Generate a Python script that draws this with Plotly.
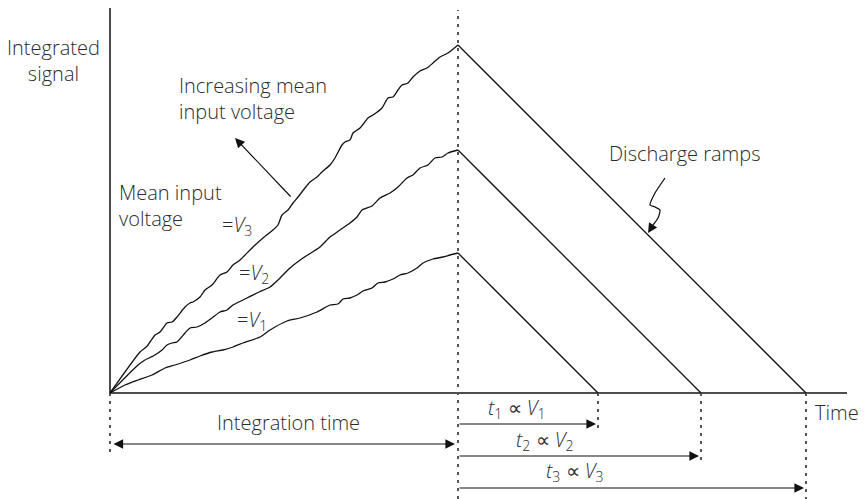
import plotly.graph_objects as go

# Ink
LINE = "#111111"
DOTS = "#555555"
TEXT = "#2b2b2b"
FONT = "Open Sans"

# Integration phase: time vs integrated signal
T_INT = 348

V1_T = [0, 15, 28, 42, 55, 65, 80, 90, 102, 113, 123, 133, 150, 160, 177, 190, 207, 220,
        228, 233, 240, 247, 253, 262, 268, 275, 283, 290, 298, 307, 313, 323, 333, 340, 348]
V1_S = [0, 8, 13, 18, 25, 28, 33, 37, 41, 43, 46, 50, 56, 63, 72, 75, 81, 88,
        89, 94, 95, 98, 102, 105, 110, 111, 114, 118, 120, 125, 130, 134, 136, 138, 140]

V2_T = [0, 28, 35, 45, 52, 57, 62, 67, 75, 80, 87, 95, 102, 110, 117, 123, 133, 147, 160, 170,
        180, 193, 210, 220, 230, 240, 247, 252, 262, 270, 280, 288, 297, 303, 310, 318, 325, 332, 338, 348]
V2_S = [0, 28, 33, 38, 43, 48, 50, 51, 60, 65, 66, 70, 75, 81, 83, 88, 93, 100, 106, 115,
        125, 135, 146, 156, 163, 170, 176, 183, 187, 195, 200, 206, 215, 218, 225, 228, 235, 236, 240, 243]

V3_T = [0, 30, 35, 38, 45, 50, 57, 62, 67, 75, 80, 83, 90, 95, 102, 110, 117, 123, 130, 143, 153,
        163, 168, 172, 178, 183, 188, 195, 200, 207, 212, 220, 225, 232, 235, 240, 243, 250, 258,
        263, 272, 278, 283, 288, 292, 298, 303, 310, 317, 323, 330, 338, 348]
V3_S = [0, 41, 45, 48, 58, 61, 70, 71, 76, 86, 90, 91, 96, 103, 108, 118, 121, 128, 133, 146, 155,
        163, 168, 178, 183, 190, 196, 205, 211, 216, 221, 228, 235, 248, 251, 253, 260, 265, 275,
        278, 285, 295, 296, 303, 308, 310, 316, 322, 325, 330, 336, 340, 348]

CURVES = [(V1_T, V1_S), (V2_T, V2_S), (V3_T, V3_S)]
PEAKS = [s[-1] for _, s in CURVES]
DISCHARGE_END = [T_INT + p for p in PEAKS]  # reference discharge: same slope for all

# Axis extents and the levels of the timing arrows below the axis
T_AXIS_END = 737
S_AXIS_END = 385
T_VIEW = [-110, 756]
S_VIEW = [-106, 393]
INT_ARROW_LEVEL = -51
T_ARROW_LEVELS = [-31, -63, -95]
DROP_ENDS = [-40, -70, S_VIEW[0]]
ORIGIN_DROP = -62
MID_TOP = 383

# Wiggly pointer to the discharge ramps
WIGGLE_T = [555, 545, 540, 545, 550, 548, 543]
WIGGLE_S = [215, 200, 188, 186, 183, 175, 168]
WIGGLE_HEAD = (538, 160)

fig = go.Figure()


def line(x, y, width=1.4, color=LINE, dash=None, shape="linear"):
    fig.add_trace(go.Scatter(
        x=x, y=y, mode="lines", hoverinfo="skip",
        line=dict(color=color, width=width, dash=dash, shape=shape, smoothing=0.6)
    ))


def label(text, x, y, xanchor="left", align="left"):
    fig.add_annotation(
        text=text, x=x, y=y, xref="x", yref="y", showarrow=False,
        xanchor=xanchor, yanchor="middle", align=align,
        font=dict(family=FONT, size=20, color=TEXT, weight=300)
    )


def arrow(head, tail, both=False):
    fig.add_annotation(
        x=head[0], y=head[1], ax=tail[0], ay=tail[1],
        xref="x", yref="y", axref="x", ayref="y", text="",
        showarrow=True, arrowhead=2, arrowsize=1.6, arrowwidth=1.2,
        arrowcolor=LINE, arrowside="end+start" if both else "end",
        standoff=0, startstandoff=0
    )


# axes
line([0, 0], [0, S_AXIS_END], width=1.5)
line([0, T_AXIS_END], [0, 0], width=1.5)

# dotted guides
line([0, 0], [0, ORIGIN_DROP], width=2, color=DOTS, dash="3px,5px")
line([T_INT, T_INT], [S_VIEW[0], MID_TOP], width=2, color=DOTS, dash="3px,5px")
for t_end, bottom in zip(DISCHARGE_END, DROP_ENDS):
    line([t_end, t_end], [0, bottom], width=2, color=DOTS, dash="3px,5px")

# integration ramps and discharge ramps
for (t, s), peak, t_end in zip(CURVES, PEAKS, DISCHARGE_END):
    line(t, s, width=1.3, shape="spline")
    line([T_INT, t_end], [peak, 0], width=1.3)

# timing arrows
arrow((T_INT - 3, INT_ARROW_LEVEL), (2, INT_ARROW_LEVEL), both=True)
for t_end, lvl in zip(DISCHARGE_END, T_ARROW_LEVELS):
    arrow((t_end - 2, lvl), (T_INT, lvl))

# pointers
arrow((125, 255), (182, 195))
line(WIGGLE_T, WIGGLE_S, width=1.3, shape="spline")
arrow(WIGGLE_HEAD, (WIGGLE_T[-1], WIGGLE_S[-1]))

# text
label("Integrated<br>signal", -57, 333, xanchor="center", align="center")
label("Increasing mean<br>input voltage", 67, 295)
label("Mean input<br>voltage", 7, 188)
label("=<i>V</i><sub>3</sub>", 110, 168)
label("=<i>V</i><sub>2</sub>", 127, 120)
label("=<i>V</i><sub>1</sub>", 125, 73)
label("Discharge ramps", 497, 240)
label("Time", 703, -19)
label("Integration time", 178, -29, xanchor="center")
label("<i>t</i><sub>1</sub> ∝ <i>V</i><sub>1</sub>", 407, -15, xanchor="center")
label("<i>t</i><sub>2</sub> ∝ <i>V</i><sub>2</sub>", 435, -47, xanchor="center")
label("<i>t</i><sub>3</sub> ∝ <i>V</i><sub>3</sub>", 465, -78, xanchor="center")

fig.update_layout(
    width=866, height=499,
    margin=dict(l=0, r=0, t=0, b=0),
    paper_bgcolor="white", plot_bgcolor="white",
    showlegend=False,
    xaxis=dict(visible=False, range=T_VIEW, fixedrange=True),
    yaxis=dict(visible=False, range=S_VIEW, fixedrange=True),
)

# the page's default body margin would push the figure 8px off the window edge
fig.write_html("out.html", config=dict(displayModeBar=False),
               post_script="document.body.style.margin='0';document.body.style.overflow='hidden';")
